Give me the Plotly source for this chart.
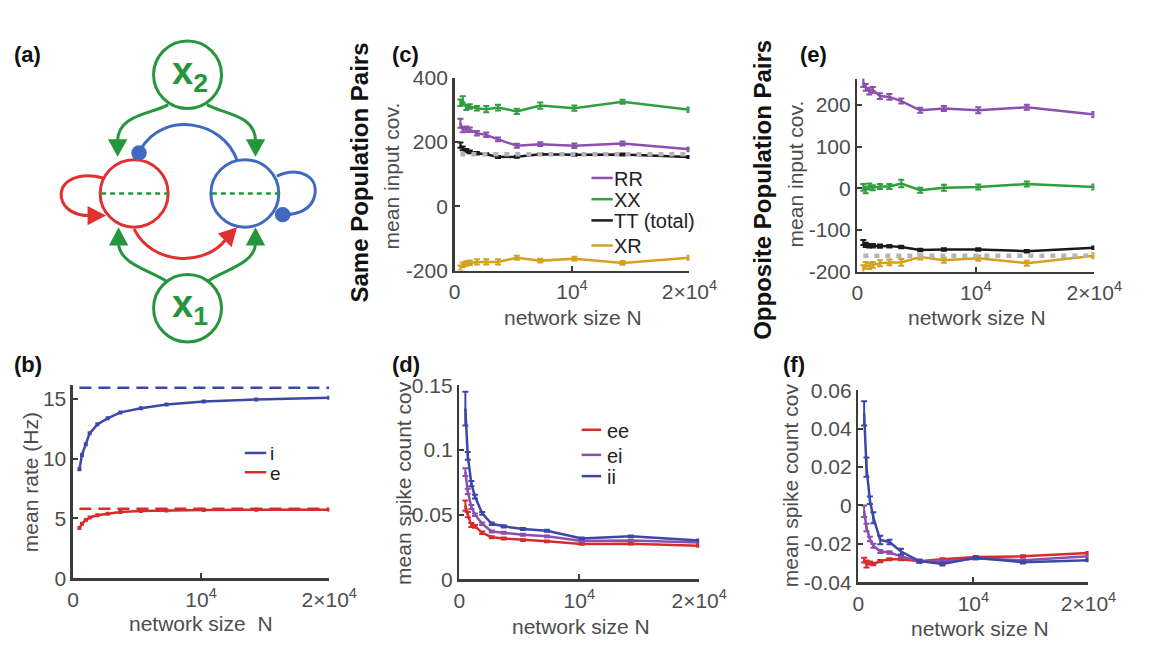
import plotly.graph_objects as go

W, H = 1166, 655

# ---------------- data ----------------
N = [500, 700, 1000, 1300, 1900, 2700, 3700, 5300, 7300, 10200, 14300, 20000]

# (b) mean rates
rate_i = [9.1, 10.3, 11.2, 12.1, 12.85, 13.35, 13.85, 14.2, 14.5, 14.75, 14.92, 15.08]
rate_e = [4.2, 4.55, 4.87, 5.08, 5.27, 5.4, 5.54, 5.62, 5.67, 5.7, 5.73, 5.73]
rate_i_theory = 15.9
rate_e_theory = 5.8

# (c) same population pairs, mean input covariance
same_RR = [258, 238, 240, 238, 227, 222, 208, 188, 193, 188, 195, 177]
same_RR_err = [14, 8, 8, 7, 7, 7, 6, 6, 6, 7, 6, 6]
same_XX = [322, 330, 307, 310, 305, 302, 307, 295, 313, 305, 325, 300]
same_XX_err = [10, 12, 8, 7, 7, 10, 9, 8, 10, 8, 6, 7]
same_TT = [190, 180, 173, 169, 165, 162, 153, 154, 162, 160, 161, 153]
same_TT_err = [8, 6, 5, 4, 4, 3, 3, 3, 3, 3, 3, 3]
same_XR = [-192, -182, -178, -176, -173, -173, -173, -160, -169, -163, -176, -160]
same_XR_err = [8, 7, 7, 7, 8, 8, 8, 6, 6, 6, 6, 6]
same_theory = 162

# (e) opposite population pairs, mean input covariance
opp_RR = [255, 242, 233, 236, 221, 219, 209, 187, 191, 187, 194, 177]
opp_RR_err = [12, 8, 8, 7, 7, 7, 6, 6, 6, 7, 6, 6]
opp_XX = [2, -4, 4, 1, 4, 4, 11, -5, 1, 3, 10, 3]
opp_XX_err = [8, 8, 7, 6, 6, 6, 9, 6, 7, 6, 6, 6]
opp_TT = [-130, -136, -138, -138, -139, -139, -141, -148, -147, -147, -151, -143]
opp_TT_err = [6, 5, 4, 4, 4, 3, 3, 3, 3, 3, 3, 3]
opp_XR = [-195, -185, -187, -184, -180, -178, -178, -165, -173, -168, -180, -162]
opp_XR_err = [10, 8, 7, 7, 7, 7, 8, 6, 6, 6, 6, 6]
opp_theory = -162

# (d) same population spike count covariance
cov_ee = [0.057, 0.050, 0.042, 0.041, 0.036, 0.0326, 0.0316, 0.0304, 0.0294, 0.0274, 0.0276, 0.0259]
cov_ee_err = [0.004, 0.002, 0.0015, 0.001, 0.001, 0.0008, 0.0008, 0.0007, 0.0007, 0.0006, 0.0006, 0.0006]
cov_ei = [0.083, 0.068, 0.056, 0.050, 0.043, 0.037, 0.036, 0.0345, 0.0333, 0.0297, 0.0300, 0.0285]
cov_ei_err = [0.003, 0.002, 0.0015, 0.001, 0.001, 0.0008, 0.0008, 0.0007, 0.0007, 0.0006, 0.0006, 0.0006]
cov_ii = [0.132, 0.0955, 0.074, 0.064, 0.051, 0.043, 0.041, 0.039, 0.0376, 0.0316, 0.0333, 0.0301]
cov_ii_err = [0.013, 0.003, 0.002, 0.0015, 0.001, 0.001, 0.0009, 0.0008, 0.0008, 0.0007, 0.0007, 0.0007]

# (f) opposite population spike count covariance
ocov_ee = [-0.0285, -0.0305, -0.030, -0.0305, -0.029, -0.028, -0.028, -0.029, -0.028, -0.0268, -0.0265, -0.0248]
ocov_ee_err = [0.0012, 0.0018, 0.0008, 0.0006, 0.0006, 0.0005, 0.0005, 0.0005, 0.0005, 0.0005, 0.0005, 0.0005]
ocov_ei = [-0.003, -0.0115, -0.0175, -0.021, -0.024, -0.0245, -0.0265, -0.0292, -0.0292, -0.0277, -0.0285, -0.0265]
ocov_ei_err = [0.003, 0.002, 0.0012, 0.001, 0.0008, 0.0006, 0.0006, 0.0006, 0.0006, 0.0005, 0.0005, 0.0005]
ocov_ii = [0.048, 0.020, 0.0027, -0.0064, -0.018, -0.019, -0.024, -0.029, -0.0305, -0.0273, -0.0296, -0.0285]
ocov_ii_err = [0.0063, 0.005, 0.002, 0.0029, 0.0022, 0.0012, 0.0015, 0.0008, 0.0008, 0.0006, 0.0006, 0.0006]

# legend labels
legend_b = ['i', 'e']
legend_c = ['RR', 'XX', 'TT (total)', 'XR']
legend_d = ['ee', 'ei', 'ii']

# ---------------- style ----------------
BLUE = '#3b48a8'
RED = '#d62c2c'
PURPLE = '#8c4fae'
GREEN = '#2f9e3f'
GOLD = '#d4a020'
BLACK = '#1a1a1a'
GREY = '#b4b4b4'
AXC = '#3c3c3c'
TXT = '#4d4d4d'
FONT = 'Liberation Sans, Arial, Helvetica, sans-serif'
FS = 21

D_RED = '#e03030'
D_BLUE = '#4169c0'
D_GREEN = '#26963c'


def dx(a, b):
    return [a / W, b / W]


def dy(top, bottom):
    return [1 - bottom / H, 1 - top / H]


fig = go.Figure()


def line(x, y, color, axis, err=None, width=2.5, dash=None, marker=False):
    kw = dict(x=x, y=y, xaxis='x' + axis, yaxis='y' + axis,
              line=dict(color=color, width=width, dash=dash),
              mode='lines+markers' if marker else 'lines',
              showlegend=False, hoverinfo='skip')
    if marker:
        kw['marker'] = dict(size=4, symbol='square', color=color)
    if err is not None:
        kw['error_y'] = dict(type='data', array=err, color=color, thickness=2, width=3)
    fig.add_trace(go.Scatter(**kw))


# (b)
line(N, rate_i, BLUE, '2', marker=True)
line(N, rate_e, RED, '2', marker=True)
line([N[0], N[-1]], [rate_i_theory] * 2, BLUE, '2', dash='12px,7px')
line([N[0], N[-1]], [rate_e_theory] * 2, RED, '2', dash='12px,7px')

# (c)
line(N, same_RR, PURPLE, '3', err=same_RR_err)
line(N, same_XX, GREEN, '3', err=same_XX_err)
line(N, same_TT, BLACK, '3', err=same_TT_err)
line(N, same_XR, GOLD, '3', err=same_XR_err)
line([N[0], N[-1]], [same_theory] * 2, GREY, '3', width=4.5, dash='5px,6px')

# (d)
line(N, cov_ee, RED, '4', err=cov_ee_err)
line(N, cov_ei, PURPLE, '4', err=cov_ei_err)
line(N, cov_ii, BLUE, '4', err=cov_ii_err)

# (e)
line(N, opp_RR, PURPLE, '5', err=opp_RR_err)
line(N, opp_XX, GREEN, '5', err=opp_XX_err)
line(N, opp_TT, BLACK, '5', err=opp_TT_err)
line(N, opp_XR, GOLD, '5', err=opp_XR_err)
line([N[0], N[-1]], [opp_theory] * 2, GREY, '5', width=4.5, dash='5px,6px')

# (f)
line(N, ocov_ee, RED, '6', err=ocov_ee_err)
line(N, ocov_ei, PURPLE, '6', err=ocov_ei_err)
line(N, ocov_ii, BLUE, '6', err=ocov_ii_err)

# ---------------- axes ----------------
xticks = [0, 10000, 20000]
xticktext = ['0', '10<sup>4</sup>', '2×10<sup>4</sup>']


def axis_common():
    return dict(showline=True, linecolor=AXC, linewidth=2.5, ticks='inside', ticklen=5,
                tickwidth=2, tickcolor=AXC, showgrid=False, zeroline=False, mirror=False,
                tickfont=dict(family=FONT, size=FS, color=TXT), fixedrange=True)


def setup(idx, xdom, ydom, yrange, yticks, yticktext):
    xa = axis_common()
    xa.update(domain=xdom, range=[0, 20000], tickvals=xticks, ticktext=xticktext,
              anchor='y' + idx, ticklabelstandoff=1)
    ya = axis_common()
    ya.update(domain=ydom, range=yrange, tickvals=yticks, ticktext=yticktext,
              anchor='x' + idx)
    fig.layout['xaxis' + idx] = xa
    fig.layout['yaxis' + idx] = ya


setup('2', dx(69, 333), dy(387, 587), [0, 16.1], [0, 5, 10, 15], ['0', '5', '10', '15'])
setup('3', dx(462, 704), dy(68, 268), [-200, 400], [-200, 0, 200, 400], ['-200', '0', '200', '400'])
setup('4', dx(467, 714), dy(387, 588), [0, 0.15], [0, 0.05, 0.1, 0.15], ['0', '0.05', '0.1', '0.15'])
setup('5', dx(877, 1121), dy(69, 269), [-200, 263], [-200, -100, 0, 100, 200],
      ['-200', '-100', '0', '100', '200'])
setup('6', dx(878, 1115), dy(392, 591), [-0.04, 0.06], [-0.04, -0.02, 0, 0.02, 0.04, 0.06],
      ['-0.04', '-0.02', '0', '0.02', '0.04', '0.06'])

# diagram axis (pixel-like coordinates, y down)
fig.layout.xaxis = dict(domain=dx(0, 380), range=[0, 380], visible=False, fixedrange=True)
fig.layout.yaxis = dict(domain=dy(0, 345), range=[345, 0], visible=False, fixedrange=True)

# ---------------- diagram (a) ----------------
shapes = []


def circle(cx, cy, r, color, fill=None, width=3):
    shapes.append(dict(type='circle', xref='x', yref='y', x0=cx - r, x1=cx + r, y0=cy - r, y1=cy + r,
                       line=dict(color=color, width=width), fillcolor=fill or 'rgba(0,0,0,0)'))


def path(d, color, width=3, fill=None, dash=None):
    shapes.append(dict(type='path', xref='x', yref='y', path=d,
                       line=dict(color=color, width=0 if fill else width, dash=dash),
                       fillcolor=fill or 'rgba(0,0,0,0)'))


# population circles
circle(187, 65, 35, D_GREEN)
circle(187, 307, 35, D_GREEN)
circle(132, 188, 35, D_RED)
circle(246, 188, 35, D_BLUE)
path('M98,188 L167,188', D_GREEN, width=2.5, dash='5px,4px')
path('M212,188 L281,188', D_GREEN, width=2.5, dash='5px,4px')

# green feedforward arrows
path('M167,96 C150,106 115,106 115,134', D_GREEN)
path('M105,132 L125,132 L115,150 Z', None, fill=D_GREEN)
path('M207,96 C224,106 257,106 257,134', D_GREEN)
path('M247,132 L267,132 L257,150 Z', None, fill=D_GREEN)
path('M116,240 C117,262 150,268 165,279', D_GREEN)
path('M106,242 L126,242 L116,223 Z', None, fill=D_GREEN)
path('M257,240 C256,262 222,268 208,279', D_GREEN)
path('M247,242 L267,242 L257,223 Z', None, fill=D_GREEN)

# blue (inhibitory) connections
path('M238,154 C224,112 162,102 139,142', D_BLUE)
circle(137, 146, 8, D_BLUE, fill=D_BLUE, width=0)
path('M279,170 C302,160 322,170 318,190 C315,205 300,210 287,210', D_BLUE)
circle(285, 210, 8, D_BLUE, fill=D_BLUE, width=0)

# red (excitatory) connections
path('M100,172 C75,165 55,175 57,192 C59,205 72,211 86,211', D_RED)
path('M84,201 L84,221 L103,211 Z', None, fill=D_RED)
path('M132,225 C150,262 205,265 227,235', D_RED)
path('M232.4,243.8 L218.2,229.6 L238,223 Z', None, fill=D_RED)

annotations = []


def ann(text, x, y, size=FS, color=TXT, bold=False, angle=0, xanchor='center', yanchor='middle',
        xref='paper', yref='paper'):
    if xref == 'paper':
        x, y = x / W, 1 - y / H
    annotations.append(dict(text='<b>%s</b>' % text if bold else text, x=x, y=y, xref=xref, yref=yref,
                            showarrow=False, textangle=angle, xanchor=xanchor, yanchor=yanchor,
                            borderpad=0, font=dict(family=FONT, size=size, color=color)))


ann('x<sub>2</sub>', 190, 64, size=38, color=D_GREEN, bold=True, xref='x', yref='y')
ann('x<sub>1</sub>', 190, 306, size=38, color=D_GREEN, bold=True, xref='x', yref='y')


# legends (line sample + label), positioned in page pixels
def legend_block(labels, colors, xl0, xl1, xt, ys, size=20):
    for lab, col, y in zip(labels, colors, ys):
        shapes.append(dict(type='line', xref='paper', yref='paper', x0=xl0 / W, x1=xl1 / W,
                           y0=1 - y / H, y1=1 - y / H, line=dict(color=col, width=2.5)))
        ann(lab, xt, y + 1, size=size, color='#222222', xanchor='left')


legend_block(legend_b, [BLUE, RED], 246, 268, 271, [457, 477], size=19)
legend_block(legend_c, [PURPLE, GREEN, BLACK, GOLD], 603, 625, 625, [172, 194, 216, 242])
legend_block(legend_d, [RED, PURPLE, BLUE], 593, 613, 618, [433, 459, 481])

fig.layout.shapes = shapes

# panel labels
for lab, x, y in [('(a)', 7, 44), ('(b)', 7, 365), ('(c)', 397, 44), ('(d)', 397, 365),
                  ('(e)', 817, 44), ('(f)', 799, 365)]:
    ann(lab, x, y, size=22, color='#111111', bold=True, xanchor='left')

# row titles
ann('Same Population Pairs', 364, 166, size=24, color='#111111', bold=True, angle=-90)
ann('Opposite Population Pairs', 779, 184, size=24, color='#111111', bold=True, angle=-90)

# axis titles
ann('mean rate (Hz)', 26, 487, angle=-90)
ann('mean input cov.', 397, 170, angle=-90)
ann('mean spike count cov', 410, 488, angle=-90)
ann('mean input cov.', 813, 168, angle=-90)
ann('mean spike count cov', 808, 490, angle=-90)
ann('network size  N', 201, 634)
ann('network size N', 584, 317)
ann('network size N', 592, 637)
ann('network size N', 1000, 317)
ann('network size N', 1003, 639)

fig.layout.annotations = annotations

fig.update_layout(width=W, height=H, margin=dict(l=0, r=0, t=0, b=0), paper_bgcolor='white',
                  plot_bgcolor='rgba(0,0,0,0)', showlegend=False,
                  font=dict(family=FONT, size=FS, color=TXT))

fig.write_html('out.html', config=dict(displayModeBar=False, staticPlot=True))
